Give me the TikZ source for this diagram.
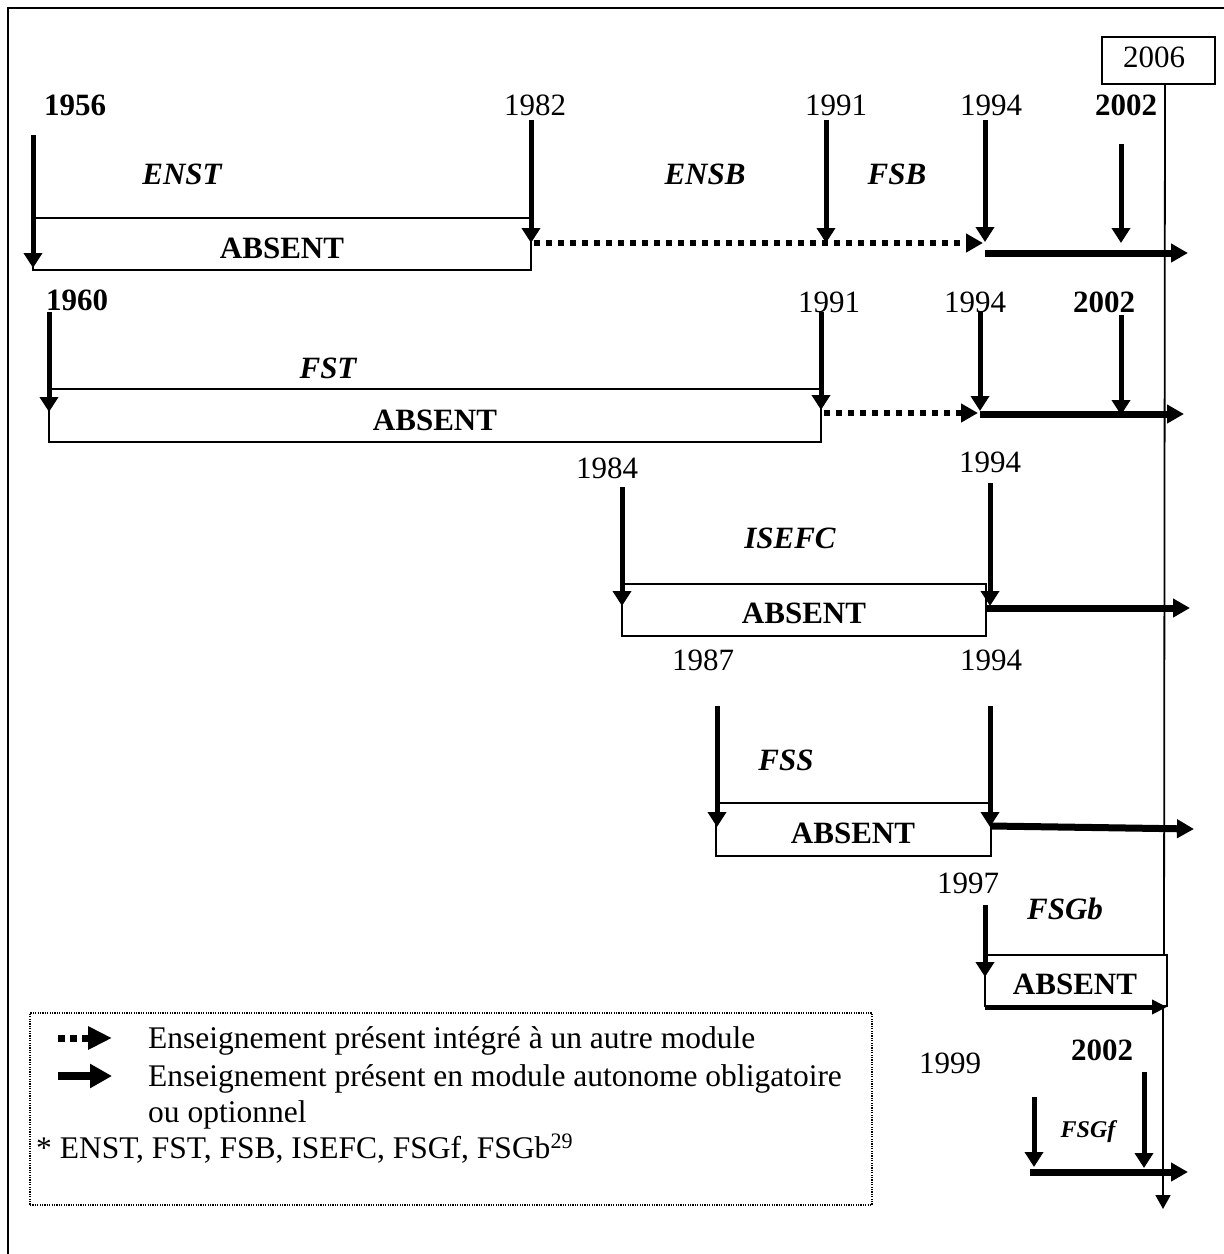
\documentclass[tikz,border=0pt]{standalone}
\usepackage{fontspec}
\setmainfont{Liberation Serif}
\usetikzlibrary{arrows.meta}
\tikzset{
  thinline/.style={line width=1.8pt},
  absbox/.style={draw, line width=1.8pt, inner sep=0pt},
  drop/.style={line width=5pt, -{Triangle[length=15pt,width=18pt]}},
  solidarr/.style={line width=7pt, -{Triangle[length=17pt,width=18pt]}},
  solidsm/.style={line width=5pt, -{Triangle[length=15pt,width=14pt]}},
  dotarr/.style={line width=6pt, dash pattern=on 6pt off 6pt, -{Triangle[length=17pt,width=18pt]}},
  yr/.style={font=\fontsize{31}{36}\selectfont, inner sep=0pt},
  yrb/.style={font=\fontsize{31}{36}\selectfont\bfseries, inner sep=0pt},
  inst/.style={font=\fontsize{31}{36}\selectfont\bfseries\itshape, inner sep=0pt},
  abs/.style={font=\fontsize{31}{36}\selectfont\bfseries, inner sep=0pt},
  legtxt/.style={font=\fontsize{31.5}{36}\selectfont, inner sep=0pt, anchor=base west},
}
\begin{document}
\begin{tikzpicture}[x=1pt,y=-1pt]
\useasboundingbox (0,0) rectangle (1224,1254);
% frame
\draw[line width=2pt] (8,1254) -- (8,8) -- (1224,8);
% 2006 box and main time line
\node[absbox, minimum width=113pt, minimum height=47pt] (n2006) at (1158.5,60.5) {};
\node[yr] (t2006) at (1154,57) {2006};
\coordinate (vgb) at (1164,955);
\coordinate (vgbb) at (1163,1006);
\coordinate (vend) at (1163,1209);
\draw[thinline] (n2006.south -| 1165,0) -- (vgb);
\draw[thinline, -{Triangle[length=14pt,width=15pt]}] (vgbb) -- (vend);

% ---------- Row 1 : ENST / ENSB / FSB
\node[yrb] (y1956) at (75,105) {1956};
\node[yr] (y1982) at (535,105) {1982};
\node[yr] (y1991a) at (836,105) {1991};
\node[yr] (y1994a) at (991,105) {1994};
\node[yrb] (y2002a) at (1126,105) {2002};
\node[inst] (enst) at (182,174) {ENST};
\node[inst] (ensb) at (705,174) {ENSB};
\node[inst] (fsb) at (897,174) {FSB};
\node[absbox, minimum width=498pt, minimum height=52pt] (b1) at (282,244) {};
\node[abs] (a1) at (282,248) {ABSENT};
\coordinate (r1s1) at (33,135);   \coordinate (r1e1) at (33,268);
\coordinate (r1s2) at (531,120);  \coordinate (r1e2) at (531,243);
\coordinate (r1s3) at (826,120);  \coordinate (r1e3) at (826,243);
\coordinate (r1s4) at (985,120);  \coordinate (r1e4) at (985,242);
\coordinate (r1s5) at (1121,144); \coordinate (r1e5) at (1121,243);
\coordinate (r1d1) at (534,243);  \coordinate (r1d2) at (983,243);
\coordinate (r1f1) at (985,253);  \coordinate (r1f2) at (1188,253);
\draw[drop] (r1s1) -- (r1e1);
\draw[drop] (r1s2) -- (r1e2);
\draw[drop] (r1s3) -- (r1e3);
\draw[drop] (r1s4) -- (r1e4);
\draw[drop] (r1s5) -- (r1e5);
\draw[dotarr] (r1d1) -- (r1d2);
\draw[solidarr] (r1f1) -- (r1f2);

% ---------- Row 2 : FST
\node[yrb] (y1960) at (77,300) {1960};
\node[yr] (y1991b) at (829,302) {1991};
\node[yr] (y1994b) at (975,302) {1994};
\node[yrb] (y2002b) at (1104,302) {2002};
\node[inst] (fst) at (328,368) {FST};
\node[absbox, minimum width=772pt, minimum height=53pt] (b2) at (435,415.5) {};
\node[abs] (a2) at (435,420) {ABSENT};
\coordinate (r2s1) at (49,312);   \coordinate (r2e1) at (49,412);
\coordinate (r2s2) at (821,312);  \coordinate (r2e2) at (821,410);
\coordinate (r2s3) at (980,312);  \coordinate (r2e3) at (980,411);
\coordinate (r2s4) at (1121,315); \coordinate (r2e4) at (1121,415);
\coordinate (r2d1) at (824,413);  \coordinate (r2d2) at (978,413);
\coordinate (r2f1) at (980,414);  \coordinate (r2f2) at (1184,414);
\draw[drop] (r2s1) -- (r2e1);
\draw[drop] (r2s2) -- (r2e2);
\draw[drop] (r2s3) -- (r2e3);
\draw[drop] (r2s4) -- (r2e4);
\draw[dotarr] (r2d1) -- (r2d2);
\draw[solidarr] (r2f1) -- (r2f2);

% ---------- Row 3 : ISEFC
\node[yr] (y1984) at (607,468) {1984};
\node[yr] (y1994c) at (990,462) {1994};
\node[inst] (isefc) at (790,538) {ISEFC};
\node[absbox, minimum width=364pt, minimum height=52pt] (b3) at (804,610) {};
\node[abs] (a3) at (804,613) {ABSENT};
\coordinate (r3s1) at (622,487);  \coordinate (r3e1) at (622,606);
\coordinate (r3s2) at (990,483);  \coordinate (r3e2) at (990,606);
\coordinate (r3f1) at (986,608);  \coordinate (r3f2) at (1190,608);
\draw[drop] (r3s1) -- (r3e1);
\draw[drop] (r3s2) -- (r3e2);
\draw[solidarr] (r3f1) -- (r3f2);

% ---------- Row 4 : FSS
\node[yr] (y1987) at (703,660) {1987};
\node[yr] (y1994d) at (991,660) {1994};
\node[inst] (fss) at (786,760) {FSS};
\node[absbox, minimum width=275pt, minimum height=53pt] (b4) at (853.5,829.5) {};
\node[abs] (a4) at (853,833) {ABSENT};
\coordinate (r4s1) at (717,706);  \coordinate (r4e1) at (717,827);
\coordinate (r4s2) at (990,706);  \coordinate (r4e2) at (990,827);
\coordinate (r4f1) at (991,826);  \coordinate (r4f2) at (1194,829);
\draw[drop] (r4s1) -- (r4e1);
\draw[drop] (r4s2) -- (r4e2);
\draw[solidarr] (r4f1) -- (r4f2);

% ---------- Row 5 : FSGb
\node[yr] (y1997) at (968,883) {1997};
\node[inst] (fsgb) at (1065,909) {FSGb};
\node[absbox, minimum width=182pt, minimum height=51pt] (b5) at (1076,980.5) {};
\node[abs] (a5) at (1075,984) {ABSENT};
\coordinate (r5s1) at (985,905);  \coordinate (r5e1) at (985,977);
\coordinate (r5f1) at (985,1007); \coordinate (r5f2) at (1167,1007);
\draw[drop] (r5s1) -- (r5e1);
\draw[solidsm] (r5f1) -- (r5f2);

% ---------- Row 6 : FSGf
\node[yr] (y1999) at (950,1063) {1999};
\node[yrb] (y2002c) at (1102,1050) {2002};
\node[font=\fontsize{24}{28}\selectfont\bfseries\itshape, inner sep=0pt, anchor=base] (fsgf) at (1088,1137) {FSGf};
\coordinate (r6s1) at (1034,1097); \coordinate (r6e1) at (1034,1167);
\coordinate (r6s2) at (1144,1072); \coordinate (r6e2) at (1144,1168);
\coordinate (r6f1) at (1030,1172); \coordinate (r6f2) at (1188,1172);
\draw[drop] (r6s1) -- (r6e1);
\draw[drop] (r6s2) -- (r6e2);
\draw[solidarr] (r6f1) -- (r6f2);

% ---------- Legend
\node[draw, line width=1.2pt, dash pattern=on 1.2pt off 1.2pt, minimum width=842pt, minimum height=192pt, inner sep=0pt] (leg) at (451,1109) {};
\coordinate (l1a) at (58,1038); \coordinate (l1b) at (112,1038);
\coordinate (l2a) at (58,1076); \coordinate (l2b) at (112,1076);
\draw[line width=7pt, dash pattern=on 7pt off 5pt, -{Triangle[length=24pt,width=22pt]}] (l1a) -- (l1b);
\draw[line width=8pt, -{Triangle[length=22pt,width=23pt]}] (l2a) -- (l2b);
\node[legtxt] (lt1) at (148,1048) {Enseignement présent intégré à un autre module};
\node[legtxt] (lt2) at (148,1086) {Enseignement présent en module autonome obligatoire};
\node[legtxt] (lt3) at (148,1122) {ou optionnel};
\node[legtxt] (lt4) at (36,1158) {* ENST, FST, FSB, ISEFC, FSGf, FSGb\textsuperscript{29}};
\end{tikzpicture}
\end{document}
